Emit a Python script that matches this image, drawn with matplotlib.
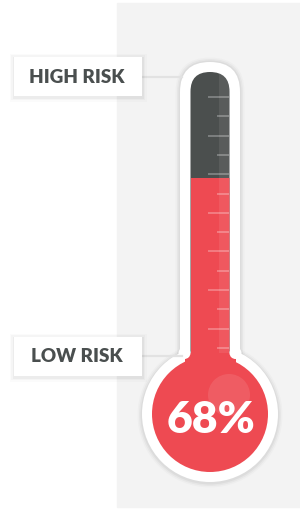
import matplotlib
matplotlib.use("Agg")
import matplotlib.pyplot as plt
from matplotlib.patches import Rectangle, Circle, FancyBboxPatch

# ---- data ----
risk_value = 68                     # percent shown in the bulb
value_label = "68%"
label_texts = ["HIGH RISK", "LOW RISK"]
n_ticks = 14

# ---- colours ----
RED = "#ee4a52"
DARK = "#4b4f4e"
PANEL = "#f3f3f3"
TEXT = "#4a4f4f"

W, H = 300, 509
fig = plt.figure(figsize=(W / 100, H / 100), dpi=100)
ax = fig.add_axes([0, 0, 1, 1])
ax.set_xlim(0, W)
ax.set_ylim(H, 0)
ax.set_aspect("auto")
ax.axis("off")
fig.patch.set_facecolor("white")

# gray panel
ax.add_patch(Rectangle((117, 3), 183, 504, color=PANEL, zorder=0))

# geometry
cx = 210
tube_top, tube_bottom = 72, 414
bulb_cy, bulb_r = 414, 58
tube_l, tube_w = 190.5, 39

# shadows for thermometer
for i, a in enumerate([0.04, 0.03, 0.02]):
    g = 1.5 * (i + 1)
    ax.add_patch(FancyBboxPatch((180 - g, 62 - g), 60 + 2 * g, 360,
                                boxstyle=f"round,pad=0,rounding_size={30+g}",
                                fc="black", ec="none", alpha=a, zorder=1))
    ax.add_patch(Circle((cx, bulb_cy + 1), 68 + g, fc="black", ec="none", alpha=a, zorder=1))

# white outline
ax.add_patch(FancyBboxPatch((180, 62), 60, 360, boxstyle="round,pad=0,rounding_size=30",
                            fc="white", ec="none", zorder=2))
ax.add_patch(Circle((cx, bulb_cy), 68, fc="white", ec="none", zorder=2))

# tube (dark)
tube = FancyBboxPatch((tube_l, tube_top), tube_w, tube_bottom - tube_top,
                      boxstyle=f"round,pad=0,rounding_size={tube_w/2}",
                      fc=DARK, ec="none", zorder=3)
ax.add_patch(tube)

# mercury level from value: scale from bulb centre (0%) to tube top (100%)
level = tube_bottom - (risk_value + 1) / 100 * (tube_bottom - tube_top)
merc = Rectangle((tube_l, level), tube_w, tube_bottom - level, fc=RED, ec="none", zorder=4)
ax.add_patch(merc)
merc.set_clip_path(tube)

# lighter stripe on right of tube
stripe = Rectangle((219, tube_top), 10.5, tube_bottom - tube_top, fc="white", ec="none",
                   alpha=0.08, zorder=5)
ax.add_patch(stripe)
stripe.set_clip_path(tube)

# bulb
ax.add_patch(Circle((cx, bulb_cy), bulb_r, fc=RED, ec="none", zorder=6))
# fillet joining tube and bulb
fr = 6
fy = 353
ax.add_patch(Rectangle((tube_l - fr, fy), tube_w + 2 * fr, 15, fc=RED, ec="none", zorder=5))
ax.add_patch(Circle((tube_l - fr, fy), fr, fc="white", ec="none", zorder=5.5))
ax.add_patch(Circle((tube_l + tube_w + fr, fy), fr, fc="white", ec="none", zorder=5.5))
# highlight
ax.add_patch(Circle((229, 395), 21, fc="white", ec="none", alpha=0.10, zorder=7))

# ticks
tick_top, tick_step = 97, 19.3
for i in range(n_ticks):
    y = tick_top + i * tick_step
    x0 = 208 if i % 2 == 0 else 217
    ax.plot([x0, 229], [y, y], color="white", alpha=0.35, lw=1.1,
            solid_capstyle="butt", zorder=8)

# label boxes
boxes = [(14, 57, 128, 39, 77, 83), (14, 337, 128, 39, 356, 362)]
for (bx, by, bw, bh, ly, base), txt in zip(boxes, label_texts):
    for i, a in enumerate([0.035, 0.025, 0.015]):
        g = 1.5 * (i + 1)
        ax.add_patch(Rectangle((bx - g, by - g + 1), bw + 2 * g, bh + 2 * g,
                               fc="black", ec="none", alpha=a, zorder=9))
    ax.add_patch(Rectangle((bx, by), bw, bh, fc="white", ec="none", zorder=10))
    ax.plot([bx + bw, 182], [ly, ly], color="#e2e2e2", lw=1.6, zorder=8.5)
    ax.text(bx + bw / 2 - 1, base, txt, ha="center", va="baseline", color=TEXT,
            fontsize=13.5, fontweight="heavy", family=["Lato", "DejaVu Sans"], zorder=11)

# value text
ax.text(211.5, 433, value_label, ha="center", va="baseline", color="white",
        fontsize=32, fontweight="heavy", family=["Lato", "DejaVu Sans"], zorder=12)

fig.savefig("out.png", dpi=100, facecolor="white")
